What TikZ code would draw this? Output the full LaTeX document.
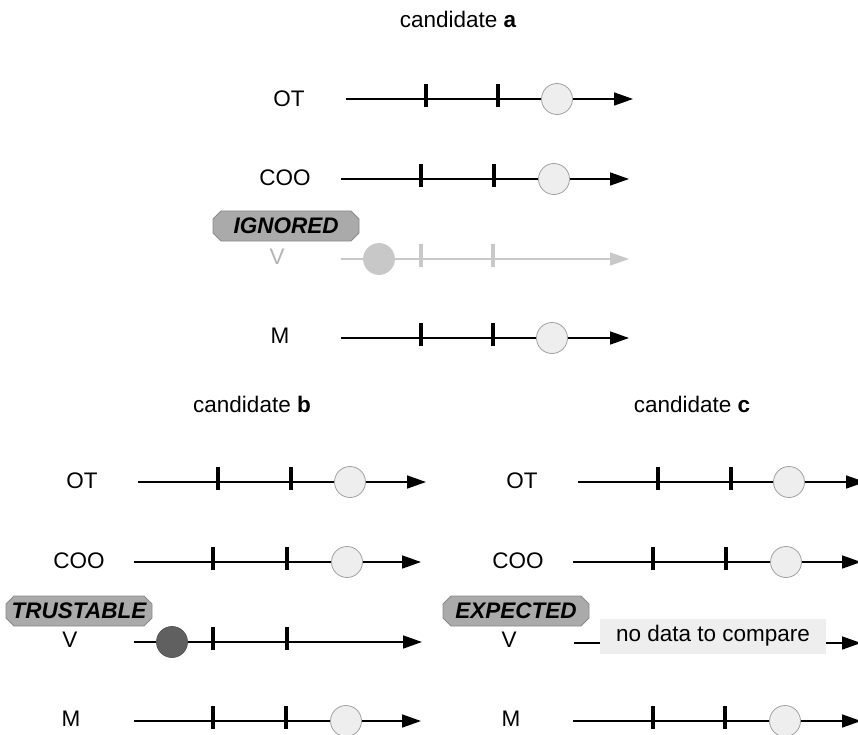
\documentclass[tikz,border=0pt]{standalone}
\usepackage{fontspec}
\setmainfont{Liberation Sans}
\usetikzlibrary{arrows.meta,shapes.misc}
\definecolor{dotfill}{HTML}{EEEEEE}
\definecolor{dotline}{HTML}{A0A0A0}
\definecolor{faded}{HTML}{C8C8C8}
\definecolor{tagfill}{HTML}{AAAAAA}
\definecolor{tagline}{HTML}{8A8A8A}
\definecolor{trusted}{HTML}{606060}
\begin{document}
\begin{tikzpicture}[x=1pt,y=-1pt,
	every node/.style={font=\fontsize{22.5}{26}\selectfont},
	axis/.style={line width=1.6pt,-{Triangle[length=19pt,width=13pt]}},
	tickmark/.style={fill=black,minimum width=4pt,minimum height=22.5pt,inner sep=0pt,yshift=3.7pt},
	dot/.style={circle,fill=dotfill,draw=dotline,line width=0.8pt,minimum size=31pt,inner sep=0pt},
	tag/.style={chamfered rectangle,chamfered rectangle xsep=4pt,chamfered rectangle ysep=4pt,fill=tagfill,draw=tagline,line width=0.8pt,minimum width=146pt,minimum height=30pt,inner sep=0pt,font=\fontsize{22.5}{26}\selectfont\bfseries\itshape}]
				\useasboundingbox (0,0) rectangle (858,735);
				% candidate a
				\node (titleA) at (458,19) {candidate \textbf{a}};
				\node (aOT) at (289,99) {OT};
				\coordinate (aOTs) at (346,99); \coordinate (aOTe) at (633,99);
				\draw[axis] (aOTs) -- (aOTe);
				\node[tickmark] at (426,99) {}; \node[tickmark] at (498,99) {};
				\node[dot] (aOTd) at (557,99) {};
				\node (aCOO) at (285,178) {COO};
				\coordinate (aCOOs) at (341,179); \coordinate (aCOOe) at (629,179);
				\draw[axis] (aCOOs) -- (aCOOe);
				\node[tickmark] at (421,179) {}; \node[tickmark] at (494,179) {};
				\node[dot] (aCOOd) at (554,179) {};
				\node[tag] (ignored) at (286,226) {IGNORED};
				\node[text=faded!90!black] (aV) at (277,257) {V};
				\coordinate (aVs) at (341,259); \coordinate (aVe) at (629,259);
				\draw[axis,faded] (aVs) -- (aVe);
				\node[tickmark,fill=faded] at (421,259) {}; \node[tickmark,fill=faded] at (493,259) {};
				\node[dot,fill=faded,draw=faded] (aVd) at (379,259) {};
				\node (aM) at (280,336) {M};
				\coordinate (aMs) at (341,338); \coordinate (aMe) at (629,338);
				\draw[axis] (aMs) -- (aMe);
				\node[tickmark] at (421,338) {}; \node[tickmark] at (493,338) {};
				\node[dot] (aMd) at (552,338) {};
				% candidate b
				\node (titleB) at (252,404) {candidate \textbf{b}};
				\node (bOT) at (82,481) {OT};
				\coordinate (bOTs) at (138,482); \coordinate (bOTe) at (426,482);
				\draw[axis] (bOTs) -- (bOTe);
				\node[tickmark] at (218,482) {}; \node[tickmark] at (291,482) {};
				\node[dot] (bOTd) at (350,482) {};
				\node (bCOO) at (79,561) {COO};
				\coordinate (bCOOs) at (134,562); \coordinate (bCOOe) at (421,562);
				\draw[axis] (bCOOs) -- (bCOOe);
				\node[tickmark] at (213,562) {}; \node[tickmark] at (287,562) {};
				\node[dot] (bCOOd) at (347,562) {};
				\node[tag] (trustable) at (79,611) {TRUSTABLE};
				\node (bV) at (70,640) {V};
				\coordinate (bVs) at (134,642); \coordinate (bVe) at (422,642);
				\draw[axis] (bVs) -- (bVe);
				\node[tickmark] at (213,642) {}; \node[tickmark] at (287,642) {};
				\node[dot,fill=trusted,draw=trusted!90!black] (bVd) at (172,642) {};
				\node (bM) at (71,719) {M};
				\coordinate (bMs) at (134,721); \coordinate (bMe) at (421,721);
				\draw[axis] (bMs) -- (bMe);
				\node[tickmark] at (213,721) {}; \node[tickmark] at (286,721) {};
				\node[dot] (bMd) at (346,721) {};
				% candidate c
				\node (titleC) at (692,404) {candidate \textbf{c}};
				\node (cOT) at (522,481) {OT};
				\coordinate (cOTs) at (578,482); \coordinate (cOTe) at (865,482);
				\draw[axis] (cOTs) -- (cOTe);
				\node[tickmark] at (658,482) {}; \node[tickmark] at (731,482) {};
				\node[dot] (cOTd) at (789,482) {};
				\node (cCOO) at (518,561) {COO};
				\coordinate (cCOOs) at (573,562); \coordinate (cCOOe) at (861,562);
				\draw[axis] (cCOOs) -- (cCOOe);
				\node[tickmark] at (653,562) {}; \node[tickmark] at (726,562) {};
				\node[dot] (cCOOd) at (786,562) {};
				\node[tag] (expected) at (516,611) {EXPECTED};
				\node (cV) at (509,640) {V};
				\coordinate (cVs) at (574,643); \coordinate (cVe) at (861,643);
				\draw[axis] (cVs) -- (cVe);
				\node[fill=dotfill,minimum width=226pt,minimum height=35pt,inner sep=0pt] (nodata) at (713,636) {no data to compare};
				\node (cM) at (511,719) {M};
				\coordinate (cMs) at (573,721); \coordinate (cMe) at (861,721);
				\draw[axis] (cMs) -- (cMe);
				\node[tickmark] at (653,721) {}; \node[tickmark] at (725,721) {};
				\node[dot] (cMd) at (785,721) {};
			\end{tikzpicture}
\end{document}
